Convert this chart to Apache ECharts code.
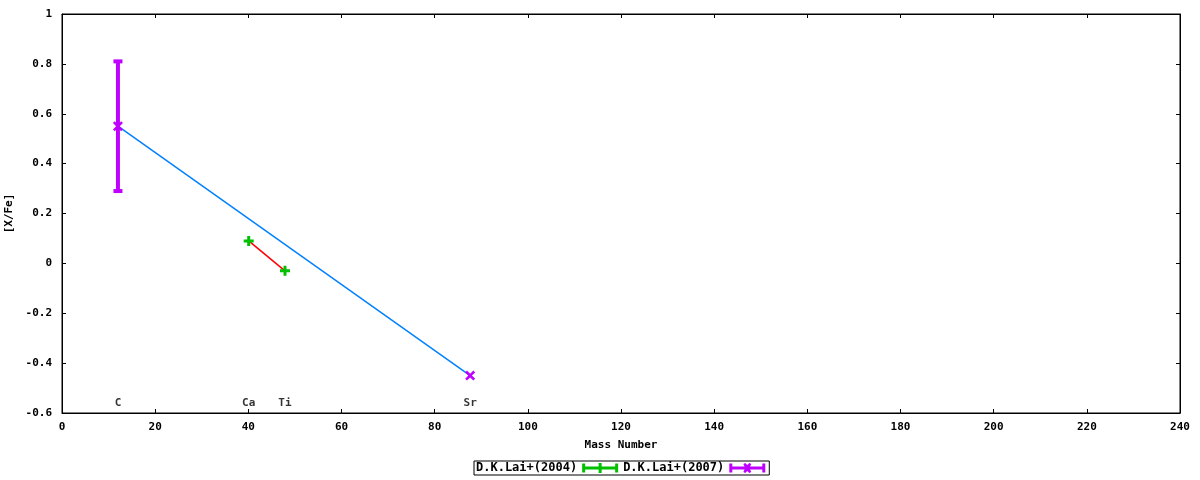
<!DOCTYPE html>
<html><head><meta charset="utf-8">
<script src="https://cdn.jsdelivr.net/npm/echarts@6/dist/echarts.min.js"></script>
<style>html,body{margin:0;padding:0;background:#fff}#c{width:1200px;height:480px}</style>
</head><body><div id="c"></div>
<script>
// Data
const elements2004 = ['Ca', 'Ti'];
const mass2004 = [40.08, 47.87];
const xfe2004 = [0.09, -0.03];
const err2004 = [0, 0];

const elements2007 = ['C', 'Sr'];
const mass2007 = [12.01, 87.62];
const xfe2007 = [0.55, -0.45];
const err2007 = [0.26, 0.0];

const xTicks = [0, 20, 40, 60, 80, 100, 120, 140, 160, 180, 200, 220, 240];
const yTicks = [-0.6, -0.4, -0.2, 0, 0.2, 0.4, 0.6, 0.8, 1];

const labelY = -0.56;
const FONT = 'DejaVu Sans Mono';

const chart = echarts.init(document.getElementById('c'));

function pairs(xs, ys) { return xs.map((x, i) => [x, ys[i]]); }

const plusPath = 'path://M3.5,0h3v3.5h3.5v3h-3.5v3.5h-3v-3.5h-3.5v-3h3.5z';
const crossPath = 'path://M0,1.8L1.8,0L5,3.2L8.2,0L10,1.8L6.8,5L10,8.2L8.2,10L5,6.8L1.8,10L0,8.2L3.2,5z';
const legGreen = 'path://M0,3.5h36v3h-36z M0,0.5h3v9h-3z M33,0.5h3v9h-3z M16.5,0h3v10h-3z M13,3.5h10v3h-10z';
const legPurple = 'path://M0,3.5h36v3h-36z M0,0.5h3v9h-3z M33,0.5h3v9h-3z M14,1L16,0L18,2L20,0L22,1L20,5L22,9L20,10L18,8L16,10L14,9L16,5z';

function errSeries(name, color, xs, ys, es) {
  return {
    type: 'custom', name: name + '_err', silent: true, z: 3,
    data: xs.map((x, i) => [x, ys[i] - es[i], ys[i] + es[i]]).filter((d, i) => es[i] > 0),
    renderItem: function (params, api) {
      const lo = api.coord([api.value(0), api.value(1)]);
      const hi = api.coord([api.value(0), api.value(2)]);
      const w = 4.5;
      const st = { stroke: color, lineWidth: 4 };
      return {
        type: 'group', children: [
          { type: 'line', shape: { x1: lo[0], y1: lo[1], x2: hi[0], y2: hi[1] }, style: st },
          { type: 'line', shape: { x1: lo[0] - w, y1: lo[1], x2: lo[0] + w, y2: lo[1] }, style: st },
          { type: 'line', shape: { x1: hi[0] - w, y1: hi[1], x2: hi[0] + w, y2: hi[1] }, style: st }
        ]
      };
    }
  };
}

const allEl = elements2007.concat(elements2004);
const allMass = mass2007.concat(mass2004);

const frameLine = { show: true, onZero: false, lineStyle: { color: '#000', width: 1 } };
const tick = { show: true, inside: true, length: 4, lineStyle: { color: '#000' } };
const lblFont = { fontFamily: FONT, fontWeight: 'bold', fontSize: 11, color: '#000' };

chart.setOption({
  animation: false,
  grid: { left: 62, right: 20, top: 14, bottom: 67, containLabel: false, outerBoundsMode: 'none', show: true, borderColor: '#000', borderWidth: 1 },
  legend: {
    bottom: 5, left: 474,
    data: [
      { name: 'D.K.Lai+(2004)', icon: legGreen },
      { name: 'D.K.Lai+(2007)', icon: legPurple }
    ],
    align: 'right', itemWidth: 36, itemHeight: 10, itemGap: 5,
    borderColor: '#000', borderWidth: 1, padding: [1, 4, 1, 2],
    textStyle: { fontFamily: FONT, fontWeight: 'bold', fontSize: 12, color: '#000' }
  },
  xAxis: [{
    type: 'value', min: 0, max: 240, interval: 20,
    name: 'Mass Number', nameLocation: 'middle', nameGap: 27,
    nameTextStyle: lblFont,
    axisLine: frameLine, axisTick: tick,
    axisLabel: Object.assign({ margin: 9 }, lblFont),
    splitLine: { show: false }
  }, {
    type: 'value', min: 0, max: 240, interval: 20, position: 'top',
    axisLine: frameLine, axisTick: tick,
    axisLabel: { show: false }, splitLine: { show: false }
  }],
  yAxis: [{
    type: 'value', min: -0.6, max: 1, interval: 0.2,
    name: '[X/Fe]', nameLocation: 'middle', nameGap: 46,
    nameTextStyle: lblFont,
    axisLine: frameLine, axisTick: tick,
    axisLabel: Object.assign({ margin: 10, formatter: v => String(Math.round(v * 10) / 10) }, lblFont),
    splitLine: { show: false }
  }, {
    type: 'value', min: -0.6, max: 1, interval: 0.2, position: 'right',
    axisLine: frameLine, axisTick: tick,
    axisLabel: { show: false }, splitLine: { show: false }
  }],
  series: [
    { type: 'line', data: pairs(mass2007, xfe2007), showSymbol: false, symbol: 'none',
      lineStyle: { color: '#0080ff', width: 1.5 }, z: 1, silent: true },
    { type: 'line', data: pairs(mass2004, xfe2004), showSymbol: false, symbol: 'none',
      lineStyle: { color: '#ff0000', width: 1.5 }, z: 1, silent: true },
    errSeries('D.K.Lai+(2004)', '#00c000', mass2004, xfe2004, err2004),
    errSeries('D.K.Lai+(2007)', '#c000ff', mass2007, xfe2007, err2007),
    { type: 'scatter', name: 'D.K.Lai+(2004)', data: pairs(mass2004, xfe2004),
      symbol: plusPath, symbolSize: 10, itemStyle: { color: '#00c000', opacity: 1 }, z: 4 },
    { type: 'scatter', name: 'D.K.Lai+(2007)', data: pairs(mass2007, xfe2007),
      symbol: crossPath, symbolSize: 10, itemStyle: { color: '#c000ff', opacity: 1 }, z: 4 },
    { type: 'scatter', name: 'labels', silent: true, symbolSize: 0,
      data: allMass.map((m, i) => ({ value: [m, labelY], label: { formatter: allEl[i] } })),
      label: Object.assign({ show: true, position: 'inside' }, lblFont) }
  ]
});
</script></body></html>
